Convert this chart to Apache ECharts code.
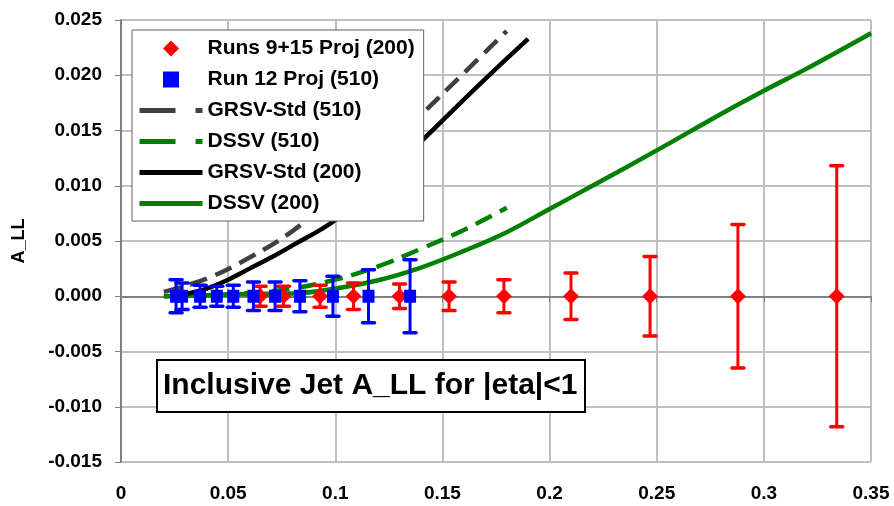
<!DOCTYPE html>
<html>
<head>
<meta charset="utf-8">
<script src="https://cdn.jsdelivr.net/npm/echarts@6/dist/echarts.min.js"></script>
<style>
  html, body { margin: 0; padding: 0; background: #fff; }
  #chart { width: 894px; height: 506px; }
</style>
</head>
<body>
<div id="chart"></div>
<script>
// Projected data points: jet x_T, asymmetry (zero) and statistical error
const redX   = [0.0649, 0.0758, 0.0929, 0.1085, 0.1300, 0.1531, 0.1787, 0.2100, 0.2469, 0.2879, 0.3340];
const redY   = [0, 0, 0, 0, 0, 0, 0, 0, 0, 0, 0];
const redErr = [0.0009, 0.0009, 0.0010, 0.0012, 0.0011, 0.0013, 0.0015, 0.0021, 0.0036, 0.0065, 0.0118];

const blueX   = [0.0257, 0.0285, 0.0369, 0.0447, 0.0524, 0.0618, 0.0719, 0.0835, 0.0989, 0.1155, 0.1349];
const blueY   = [0, 0, 0, 0, 0, 0, 0, 0, 0, 0, 0];
const blueErr = [0.0015, 0.0012, 0.0010, 0.0009, 0.0010, 0.0013, 0.0013, 0.0014, 0.0018, 0.0024, 0.0033];

// Model curves
const grsv510X = [0.02, 0.04, 0.06, 0.08, 0.10, 0.12, 0.14, 0.16, 0.18];
const grsv510Y = [0.0004, 0.0016, 0.0035, 0.0059, 0.0091, 0.0125, 0.0164, 0.0202, 0.0240];

const dssv510X = [0.02, 0.04, 0.06, 0.08, 0.10, 0.12, 0.14, 0.16, 0.18];
const dssv510Y = [0.0000, 0.0001, 0.0003, 0.0007, 0.0015, 0.0027, 0.0043, 0.0060, 0.0080];

const grsv200X = [0.03, 0.04, 0.05, 0.06, 0.07, 0.08, 0.10, 0.12, 0.14, 0.16, 0.18, 0.19];
const grsv200Y = [0.0002, 0.0007, 0.0015, 0.0025, 0.0035, 0.0046, 0.0069, 0.0104, 0.0140, 0.0178, 0.0215, 0.0233];

const dssv200X = [0.02, 0.04, 0.06, 0.08, 0.10, 0.12, 0.14, 0.16, 0.18, 0.20, 0.22, 0.25, 0.28, 0.30, 0.32, 0.35];
const dssv200Y = [0.0000, 0.0001, 0.0002, 0.00025, 0.0007, 0.00145, 0.0026, 0.0041, 0.0058, 0.0079, 0.0100, 0.0132, 0.0165, 0.0186, 0.0206, 0.0238];

// Axis ticks
const xTicks = { min: 0, max: 0.35, step: 0.05 };
const yTicks = { min: -0.015, max: 0.025, step: 0.005 };

const seriesNames = ['Runs 9+15 Proj (200)', 'Run 12 Proj (510)', 'GRSV-Std (510)', 'DSSV (510)', 'GRSV-Std (200)', 'DSSV (200)'];
const titleText = 'Inclusive Jet A_LL for |eta|<1';
const yName = 'A_LL';

const FONT = '"Liberation Sans", Arial, sans-serif';
const RED = '#ff0000';
const BLUE = '#0000ff';
const GREEN = '#008000';
const DARK = '#404040';

const zip = (xs, ys) => xs.map((x, i) => [x, ys[i]]);
const zip3 = (xs, ys, es) => xs.map((x, i) => [x, ys[i], es[i]]);

// Vertical error bar with flat caps at y ± err
function errorBars(color) {
  return function (params, api) {
    const x = api.value(0), y = api.value(1), e = api.value(2);
    const top = api.coord([x, y + e]);
    const bot = api.coord([x, y - e]);
    const cap = 6;
    return {
      type: 'group',
      children: [
        { type: 'line', shape: { x1: top[0], y1: top[1], x2: bot[0], y2: bot[1] }, style: { stroke: color, lineWidth: 3 } },
        { type: 'line', shape: { x1: top[0] - cap, y1: top[1], x2: top[0] + cap, y2: top[1] }, style: { stroke: color, lineWidth: 3.5, lineCap: 'round' } },
        { type: 'line', shape: { x1: bot[0] - cap, y1: bot[1], x2: bot[0] + cap, y2: bot[1] }, style: { stroke: color, lineWidth: 3.5, lineCap: 'round' } }
      ]
    };
  };
}

const chart = echarts.init(document.getElementById('chart'), null, { renderer: 'canvas' });

const axisLabelStyle = { color: '#000', fontFamily: FONT, fontWeight: 'bold', fontSize: 19 };
const hiddenDot = { opacity: 0 };

chart.setOption({
  backgroundColor: '#fff',
  animation: false,
  title: {
    text: titleText,
    left: 157,
    top: 360,
    padding: [11, 8, 11, 6],
    borderColor: '#000',
    borderWidth: 2,
    backgroundColor: '#fff',
    textStyle: { fontFamily: FONT, fontWeight: 'bold', fontSize: 30, color: '#000' }
  },
  grid: { left: 121, right: 23, top: 20, bottom: 44 },
  legend: {
    orient: 'vertical',
    left: 132,
    top: 30,
    padding: [8, 9, 7, 5],
    backgroundColor: '#fff',
    borderColor: '#606060',
    borderWidth: 1,
    itemWidth: 63,
    itemHeight: 16,
    itemGap: 10,
    symbolKeepAspect: true,
    textStyle: { fontFamily: FONT, fontWeight: 'bold', fontSize: 21, color: '#000' },
    data: [
      { name: seriesNames[0], icon: 'path://M0,-1 L1,0 L0,1 L-1,0 Z' },
      { name: seriesNames[1], icon: 'path://M0,0 L1,0 L1,1 L0,1 Z' },
      { name: seriesNames[2], lineStyle: { type: [36, 20], width: 5 }, itemStyle: hiddenDot },
      { name: seriesNames[3], lineStyle: { type: [36, 20], width: 5 }, itemStyle: hiddenDot },
      { name: seriesNames[4], lineStyle: { width: 5 }, itemStyle: hiddenDot },
      { name: seriesNames[5], lineStyle: { width: 5 }, itemStyle: hiddenDot }
    ]
  },
  xAxis: {
    type: 'value',
    min: xTicks.min,
    max: xTicks.max,
    interval: xTicks.step,
    axisLine: { lineStyle: { color: '#808080', width: 2 } },
    axisTick: { show: true, inside: false, length: 6, lineStyle: { color: '#808080', width: 1 } },
    axisLabel: Object.assign({ margin: 22 }, axisLabelStyle),
    splitLine: { show: true, lineStyle: { color: '#c0c0c0', width: 2 } }
  },
  yAxis: {
    type: 'value',
    min: yTicks.min,
    max: yTicks.max,
    interval: yTicks.step,
    name: yName,
    nameLocation: 'middle',
    nameGap: 93,
    nameRotate: 90,
    nameTextStyle: { fontFamily: FONT, fontWeight: 'bold', fontSize: 18, color: '#000' },
    axisLine: { show: true, lineStyle: { color: '#808080', width: 2 } },
    axisTick: { show: true, inside: false, length: 6, lineStyle: { color: '#808080', width: 1 } },
    axisLabel: Object.assign({ margin: 19, formatter: v => v.toFixed(3) }, axisLabelStyle),
    splitLine: { show: true, lineStyle: { color: '#c0c0c0', width: 2 } }
  },
  series: [
    {
      name: seriesNames[5], type: 'line', data: zip(dssv200X, dssv200Y),
      showSymbol: false, symbol: 'none', smooth: 0.4,
      lineStyle: { color: GREEN, width: 4.5 }, itemStyle: { color: GREEN }, z: 2
    },
    {
      name: seriesNames[3], type: 'line', data: zip(dssv510X, dssv510Y),
      showSymbol: false, symbol: 'none', smooth: 0.4,
      lineStyle: { color: GREEN, width: 4.5, type: [18, 9] }, itemStyle: { color: GREEN }, z: 2
    },
    {
      name: seriesNames[4], type: 'line', data: zip(grsv200X, grsv200Y),
      showSymbol: false, symbol: 'none', smooth: 0.4,
      lineStyle: { color: '#000', width: 4.5 }, itemStyle: { color: '#000' }, z: 2
    },
    {
      name: seriesNames[2], type: 'line', data: zip(grsv510X, grsv510Y),
      showSymbol: false, symbol: 'none', smooth: 0.4,
      lineStyle: { color: DARK, width: 4.5, type: [18, 9] }, itemStyle: { color: DARK }, z: 2
    },
    {
      name: 'redErr', type: 'custom', data: zip3(redX, redY, redErr),
      renderItem: errorBars(RED), encode: { x: 0, y: 1 }, z: 3
    },
    {
      name: seriesNames[0], type: 'scatter', data: zip(redX, redY),
      symbol: 'diamond', symbolSize: [16, 16], itemStyle: { color: RED, opacity: 1 }, z: 3
    },
    {
      name: 'blueErr', type: 'custom', data: zip3(blueX, blueY, blueErr),
      renderItem: errorBars(BLUE), encode: { x: 0, y: 1 }, z: 3
    },
    {
      name: seriesNames[1], type: 'scatter', data: zip(blueX, blueY),
      symbol: 'rect', symbolSize: [12, 13], itemStyle: { color: BLUE, opacity: 1 }, z: 3
    }
  ]
});
</script>
</body>
</html>
